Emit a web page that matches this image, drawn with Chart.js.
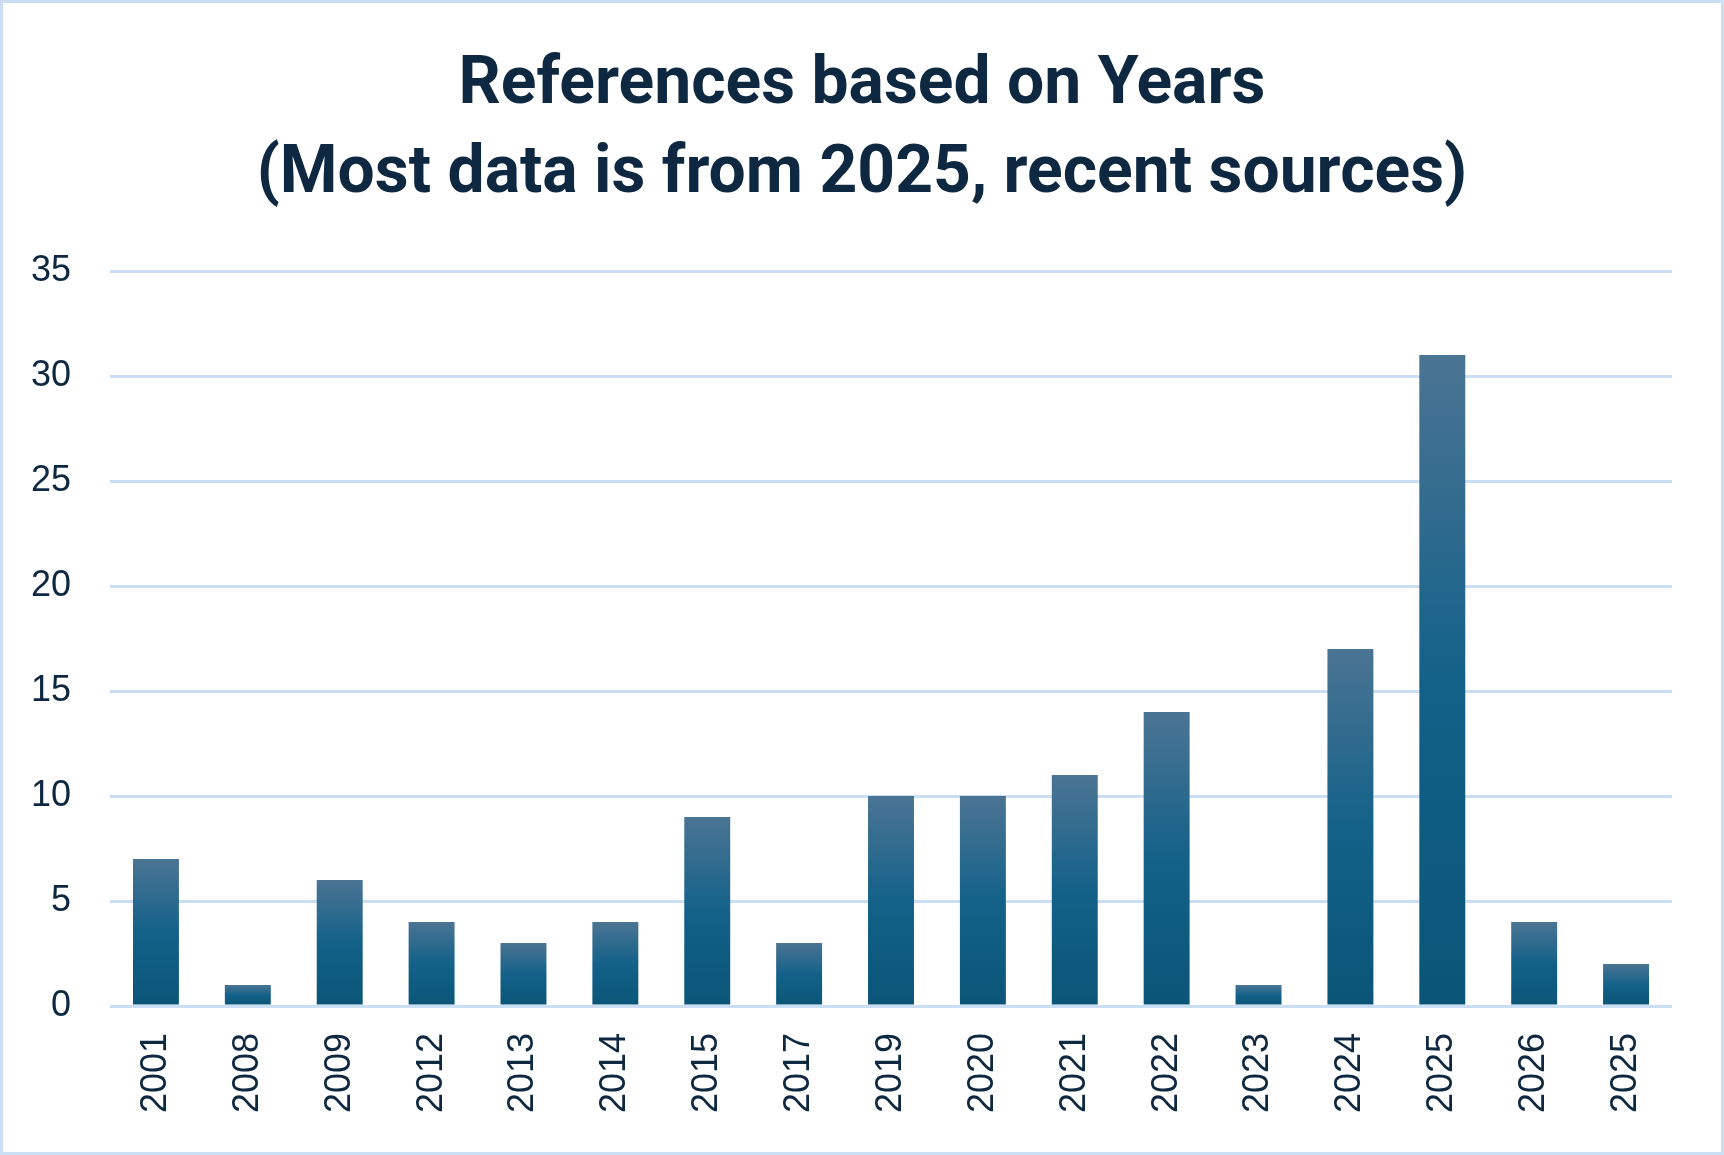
<!DOCTYPE html>
<html>
<head>
<meta charset="utf-8">
<script src="https://cdn.jsdelivr.net/npm/chart.js@4/dist/chart.umd.min.js"></script>
<style>
  html, body { margin: 0; padding: 0; background: #fff; }
  #box {
    width: 1718px; height: 1149px;
    border: 3px solid #cadff4;
    position: relative;
  }
</style>
</head>
<body>
<div id="box"><canvas id="bars"></canvas></div>
<script>
// chart data
var years = ["2001","2008","2009","2012","2013","2014","2015","2017","2019",
             "2020","2021","2022","2023","2024","2025","2026","2025"];
var counts = [7, 1, 6, 4, 3, 4, 9, 3, 10, 10, 11, 14, 1, 17, 31, 4, 2];
var yTicks = [0, 5, 10, 15, 20, 25, 30, 35];
var titleLines = ["References based on Years", "(Most data is from 2025, recent sources)"];

var textColor = "#0e2841";
var gridColor = "#cadff4";

// each bar gets its own top-to-bottom gradient
function barFill(c) {
  var chart = c.chart;
  if (!chart.chartArea || c.raw == null) return "#136189";
  var y = chart.scales.y;
  var top = y.getPixelForValue(c.raw);
  var bottom = y.getPixelForValue(0);
  if (!isFinite(top) || bottom - top < 1) return "#136189";
  var g = chart.ctx.createLinearGradient(0, top, 0, bottom);
  g.addColorStop(0, "#4b7493");
  g.addColorStop(0.5, "#136189");
  g.addColorStop(1, "#0a5577");
  return g;
}

var ctx = document.getElementById("bars");

new Chart(ctx, {
  type: "bar",
  data: {
    labels: years,
    datasets: [{
      label: "References",
      data: counts,
      backgroundColor: barFill,
      borderWidth: 0,
      barPercentage: 1,
      categoryPercentage: 0.5
    }]
  },
  options: {
    responsive: true,
    maintainAspectRatio: false,
    animation: false,
    devicePixelRatio: 1,
    layout: { padding: 0 },
    plugins: {
      legend: { display: false },
      tooltip: { enabled: false },
      title: {
        display: true,
        text: titleLines,
        color: textColor,
        font: { family: "Roboto", size: 66, weight: "bold", lineHeight: 89 / 66 },
        padding: { top: 39, bottom: 51 }
      }
    },
    scales: {
      x: {
        grid: { display: false, drawTicks: false },
        border: { display: false },
        ticks: {
          color: textColor,
          font: { family: "Liberation Sans, Arial", size: 36 },
          minRotation: 90,
          maxRotation: 90,
          autoSkip: false,
          padding: 27
        },
        afterFit: function (s) { s.height = 146; }
      },
      y: {
        min: 0,
        max: 35,
        afterBuildTicks: function (s) {
          s.ticks = yTicks.map(function (v) { return { value: v }; });
        },
        grid: { color: gridColor, lineWidth: 3, drawTicks: false },
        border: { display: false },
        ticks: {
          color: textColor,
          font: { family: "Liberation Sans, Arial", size: 36 },
          padding: 39
        },
        afterFit: function (s) { s.width = 107; }
      },
      // empty right-hand axis, only reserves the right margin
      yRight: {
        position: "right",
        min: 0,
        max: 35,
        grid: { display: false, drawTicks: false },
        border: { display: false },
        ticks: { display: false },
        afterFit: function (s) { s.width = 49; }
      }
    }
  }
});
</script>
</body>
</html>
